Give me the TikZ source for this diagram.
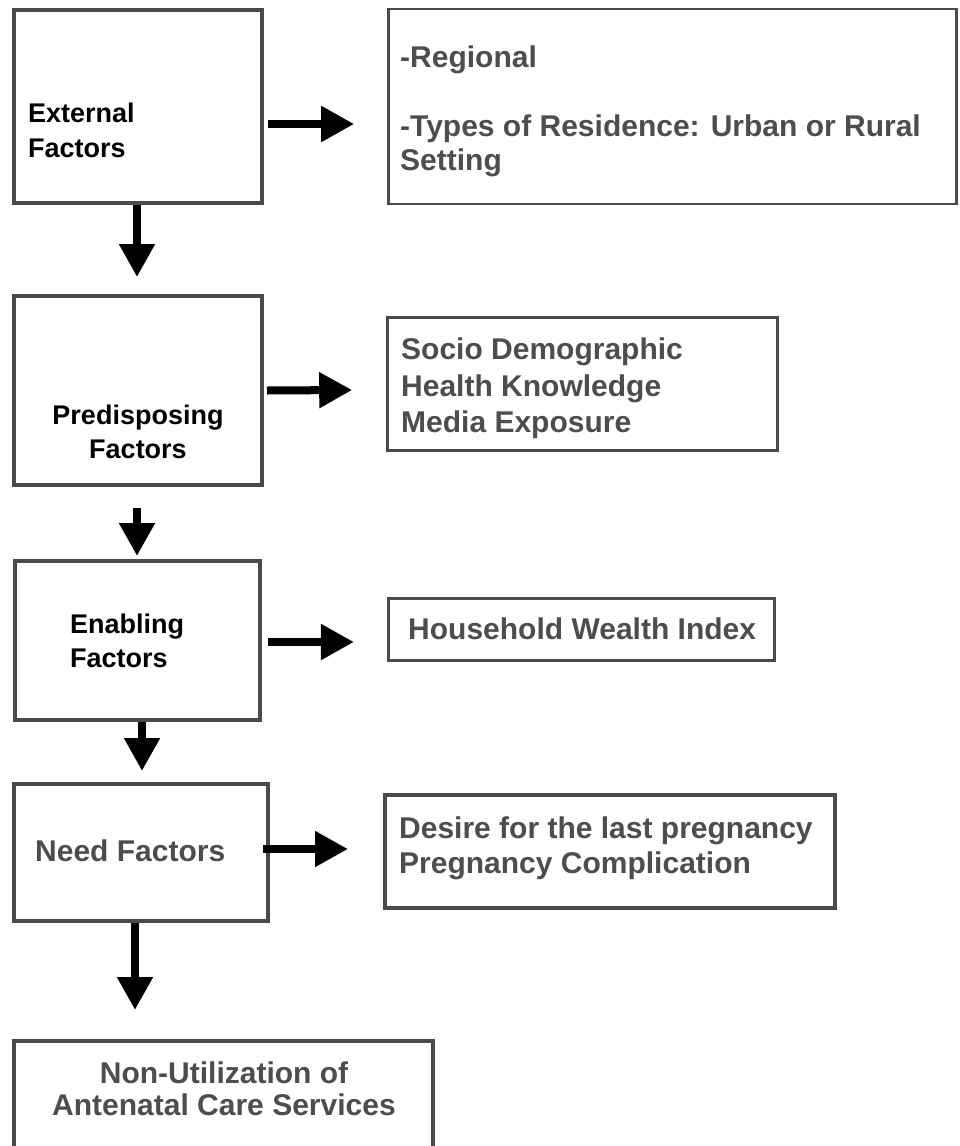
\documentclass[tikz,border=0pt]{standalone}
\usepackage{fontspec}
\setmainfont{Liberation Sans}
\usetikzlibrary{arrows.meta,calc}
\definecolor{boxgray}{HTML}{4A4A4A}
\definecolor{txtgray}{HTML}{4D4D4D}
\begin{document}
\begin{tikzpicture}[x=1pt,y=-1pt,
  bigbox/.style={draw=boxgray,line width=4pt,inner sep=0pt},
  smallbox/.style={draw=boxgray,line width=2.6pt,inner sep=0pt},
  blk/.style={inner sep=0pt,text=black,font=\bfseries\fontsize{27}{34.5}\selectfont},
  gry/.style={inner sep=0pt,text=txtgray,font=\bfseries\fontsize{30}{34.5}\selectfont},
  flow/.style={draw=black,line width=8pt,-{Triangle[length=33pt,width=34pt]}}]
\useasboundingbox (0,0) rectangle (960,1146);
% boxes
\node[bigbox,minimum width=248pt,minimum height=193pt] (ext) at (138,106.5) {};
\node[smallbox,minimum width=568pt,minimum height=195pt] (reg) at (672.5,106.5) {};
\node[bigbox,minimum width=248pt,minimum height=189pt] (pre) at (138,390.5) {};
\node[smallbox,minimum width=390pt,minimum height=133pt] (soc) at (582.5,384) {};
\node[bigbox,minimum width=245pt,minimum height=159pt] (ena) at (137.5,640.5) {};
\node[smallbox,minimum width=386.5pt,minimum height=62.5pt] (hh) at (581.5,629.5) {};
\node[bigbox,minimum width=254pt,minimum height=137pt] (need) at (141,852.5) {};
\node[bigbox,minimum width=450pt,minimum height=113pt] (des) at (610,851.5) {};
\node[bigbox,minimum width=419pt,minimum height=120pt] (fin) at (223.5,1101) {};
% texts
\node[blk,anchor=north west,align=left] (t1) at (28,103) {External\\Factors};
\node[gry,anchor=north west,align=left] (t2) at (400,46) {-Regional\\[34pt]-Types of Residence: Urban or Rural\\Setting};
\node[blk,anchor=north,align=center,font=\bfseries\fontsize{27}{34}\selectfont] (t3) at (138,405) {Predisposing\\Factors};
\node[gry,anchor=north west,align=left,font=\bfseries\fontsize{30}{36.5}\selectfont] (t4) at (401,338) {Socio Demographic\\Health Knowledge\\Media Exposure};
\node[blk,anchor=north west,align=left,font=\bfseries\fontsize{27}{34}\selectfont] (t5) at (70,614) {Enabling\\Factors};
\node[gry,anchor=north west] (t6) at (408,618) {Household Wealth Index};
\node[gry,anchor=north west] (t7) at (35,840) {Need Factors};
\node[gry,anchor=north west,align=left,font=\bfseries\fontsize{30}{35}\selectfont] (t8) at (399,817) {Desire for the last pregnancy\\Pregnancy Complication};
\node[gry,anchor=north,align=center,font=\bfseries\fontsize{30}{32}\selectfont] (t9) at (224,1062) {Non-Utilization of\\Antenatal Care Services};
% connectors
\draw[flow] ($(ext.east)+(4,17.5)$) -- ($(reg.west)+(-33,17.5)$);
\draw[flow] ($(ext.south)+(-1,0)$) -- ($(pre.north)+(-1,-17)$);
\draw[flow] ($(pre.east)+(3,0)$) -- ($(soc.west)+(-34,6)$);
\draw[flow] ($(pre.south)+(-1,21)$) -- ($(ena.north)+(-0.5,-3)$);
\draw[flow] ($(ena.east)+(6,1.5)$) -- ($(hh.west)+(-33,12.5)$);
\draw[flow] ($(ena.south)+(4.5,0)$) -- ($(need.north)+(1,-11)$);
\draw[flow] ($(need.east)+(-7,-3.5)$) -- ($(des.west)+(-35,-2.5)$);
\draw[flow] ($(need.south)+(-6,0)$) -- ($(fin.north)+(-88.5,-29)$);
\end{tikzpicture}
\end{document}
